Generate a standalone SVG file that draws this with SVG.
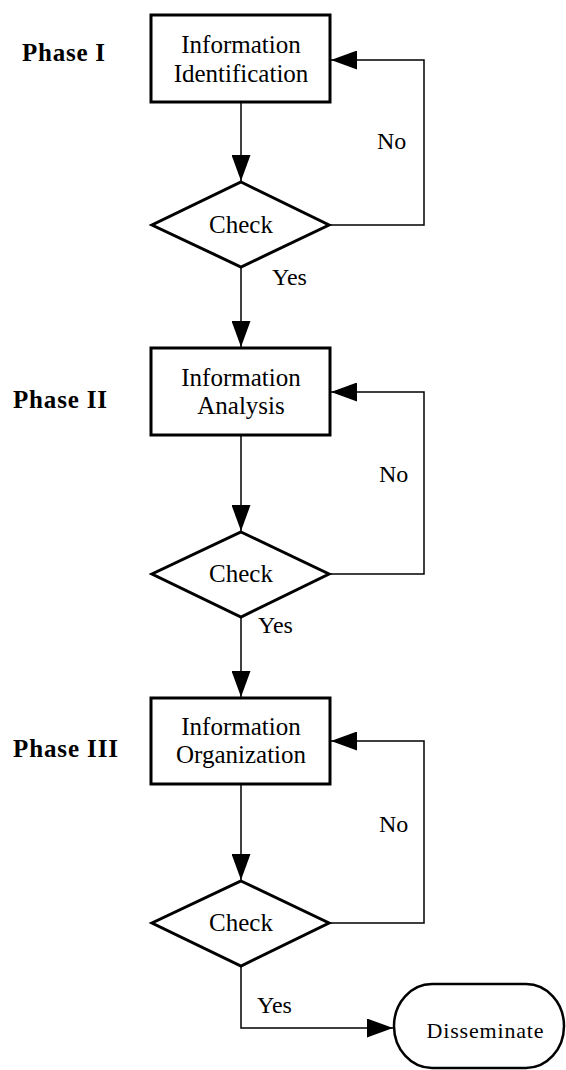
<svg xmlns="http://www.w3.org/2000/svg" width="566" height="1070" viewBox="0 0 566 1070">
<style>
.bg{fill:#fff}
.box{fill:#fff;stroke:#000;stroke-width:3}
.dia{fill:#fff;stroke:#000;stroke-width:3;stroke-linejoin:miter}
.term{fill:#fff;stroke:#000;stroke-width:2.5}
.con{fill:none;stroke:#000;stroke-width:1.5}
.t{font-family:"Liberation Serif","Times New Roman",serif;font-size:25px;fill:#000;text-anchor:middle}
.lbl{font-family:"Liberation Serif","Times New Roman",serif;font-size:24px;fill:#000}
.ph{font-family:"Liberation Serif","Times New Roman",serif;font-size:25px;font-weight:bold;fill:#000}
</style>
<defs>
<marker id="ah" markerUnits="userSpaceOnUse" markerWidth="26" markerHeight="19" refX="26" refY="9.5" orient="auto">
<path d="M0,0 L26,9.5 L0,19 Z" fill="#000"/>
</marker>
</defs>
<rect class="bg" x="0" y="0" width="566" height="1070"/>

<g id="phase-labels">
<text class="ph" x="22" y="61" textLength="83" lengthAdjust="spacing">Phase I</text>
<text class="ph" x="13" y="408" textLength="94" lengthAdjust="spacing">Phase II</text>
<text class="ph" x="13" y="757" textLength="105" lengthAdjust="spacing">Phase III</text>
</g>

<g id="connectors">
<path class="con" d="M241,103 V181" marker-end="url(#ah)"/>
<path class="con" d="M329,225 H424 V60 H331" marker-end="url(#ah)"/>
<path class="con" d="M241,267 V347" marker-end="url(#ah)"/>
<path class="con" d="M241,436 V531" marker-end="url(#ah)"/>
<path class="con" d="M329,574 H424 V392 H331" marker-end="url(#ah)"/>
<path class="con" d="M241,617 V697" marker-end="url(#ah)"/>
<path class="con" d="M241,785 V880" marker-end="url(#ah)"/>
<path class="con" d="M329,923 H424 V741 H331" marker-end="url(#ah)"/>
<path class="con" d="M241,967 V1028 H393" marker-end="url(#ah)"/>
<text class="lbl" x="377" y="149">No</text>
<text class="lbl" x="379" y="482">No</text>
<text class="lbl" x="379" y="832">No</text>
<text class="lbl" x="272" y="285">Yes</text>
<text class="lbl" x="258" y="633">Yes</text>
<text class="lbl" x="257" y="1013">Yes</text>
</g>

<g id="n-identification">
<rect class="box" x="151" y="15" width="179" height="87"/>
<text class="t" x="241" y="53">Information</text>
<text class="t" x="241" y="82">Identification</text>
</g>
<g id="n-check1">
<polygon class="dia" points="241,182 329,225 241,267 152,225"/>
<text class="t" x="241" y="233">Check</text>
</g>

<g id="n-analysis">
<rect class="box" x="151" y="348" width="179" height="87"/>
<text class="t" x="241" y="386">Information</text>
<text class="t" x="241" y="414">Analysis</text>
</g>
<g id="n-check2">
<polygon class="dia" points="241,532 329,574 241,617 152,574"/>
<text class="t" x="241" y="582">Check</text>
</g>

<g id="n-organization">
<rect class="box" x="151" y="698" width="179" height="86"/>
<text class="t" x="241" y="735">Information</text>
<text class="t" x="241" y="763">Organization</text>
</g>
<g id="n-check3">
<polygon class="dia" points="241,881 329,923 241,966 152,923"/>
<text class="t" x="241" y="931">Check</text>
</g>

<g id="n-disseminate">
<rect class="term" x="394" y="984" width="170" height="84" rx="38" ry="42"/>
<text class="t" x="485" y="1038" style="font-size:22px" textLength="117" lengthAdjust="spacing">Disseminate</text>
</g>
</svg>
